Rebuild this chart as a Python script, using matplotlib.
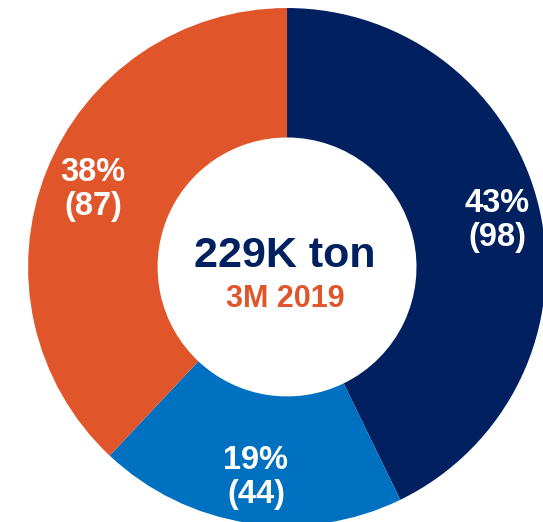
import matplotlib
matplotlib.use("Agg")
import matplotlib.pyplot as plt

# 3M 2019 volume split (K ton)
values = [98, 44, 87]
pct_labels = ["43%", "19%", "38%"]
val_labels = ["(98)", "(44)", "(87)"]
colors = ["#002060", "#0070C0", "#E0552A"]
total_label = "229K ton"
period_label = "3M 2019"

plt.rcParams['font.family'] = ['Liberation Sans', 'DejaVu Sans']

fig = plt.figure(figsize=(5.43, 5.22), dpi=100)
ax = fig.add_axes([0, 0, 1, 1])

wedges, _ = ax.pie(values, colors=colors, startangle=90, counterclock=False,
                   radius=1.0, wedgeprops=dict(width=0.5, linewidth=0))

# baseline of the first label line, picked by hand
label_pos = [(0.811, 0.212), (-0.120, -0.780), (-0.749, 0.332)]
line_gap = 0.130
for p, v, (x, y) in zip(pct_labels, val_labels, label_pos):
    ax.text(x, y, p, ha='center', va='baseline', color='white',
            fontsize=23.5, fontweight='bold')
    ax.text(x, y - line_gap, v, ha='center', va='baseline', color='white',
            fontsize=23.5, fontweight='bold')

ax.text(-0.008, 0.0, total_label, ha='center', va='baseline', color='#002060',
        fontsize=31, fontweight='bold')
ax.text(-0.006, -0.154, period_label, ha='center', va='baseline', color='#E0552A',
        fontsize=22, fontweight='bold')

ax.set_aspect('equal')
ax.set_xlim(-1.108, 0.988)
ax.set_ylim(-0.985, 1.031)
ax.axis('off')

fig.savefig("out.png", dpi=100)
